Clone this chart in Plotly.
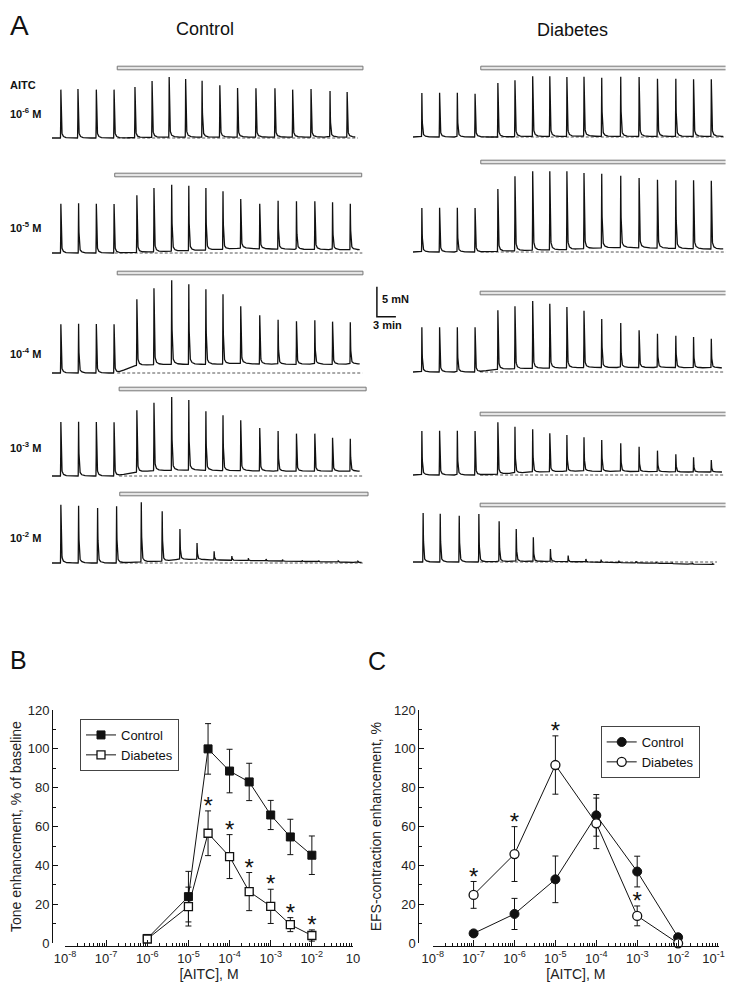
import numpy as np
import plotly.graph_objects as go

# The page body keeps the browser's default 8 px margin, so the figure is made
# 16 px smaller than the window and every pixel position is shifted by that margin.
WIN_W, WIN_H = 734, 998
OFF = 8
PW, PH = WIN_W - 2 * OFF, WIN_H - 2 * OFF
FONT = "Arial, 'Liberation Sans', Helvetica, sans-serif"


def fx(p):
    return (p - OFF) / PW


def fy(p):
    return 1 - (p - OFF) / PH


# ---------------- Panel A data: EFS-evoked contractions (mN) vs time (min) ----------------
CONC_LABELS = ["10<sup>-6</sup> M", "10<sup>-5</sup> M", "10<sup>-4</sup> M",
               "10<sup>-3</sup> M", "10<sup>-2</sup> M"]

SPIKE_T = [1.4, 4.2, 7.0, 9.8, 13.4, 16.1, 18.9, 21.6, 24.3, 27.0, 29.8, 32.8, 35.7, 38.6, 41.5, 44.3, 47.1]
SPIKE_T_C6 = [1.4, 4.1, 7.0, 9.8, 13.1, 15.8, 18.5, 21.1, 23.7, 26.5, 29.3, 32.2, 35.2, 38.0, 40.9, 43.9, 46.6]
SPIKE_T_C2 = [1.4, 4.2, 7.2, 10.2, 14.1, 17.4, 20.2, 22.9, 25.6, 28.4, 31.0, 33.8, 36.4, 39.5, 42.1, 45.2, 48.3]
SPIKE_T_D2 = [1.6, 4.3, 7.3, 10.4, 13.6, 16.3, 19.0, 21.7, 24.5, 27.3, 29.7, 32.5, 35.2, 38.4, 40.9, 44.1, 47.3]

CTRL_E6_PEAK = [8.06, 8.17, 8.06, 8.06, 8.5, 9.5, 10.17, 9.83, 9.56, 8.78, 8.33, 8.28, 8.28, 8.06, 8.17, 7.83, 7.67]
CTRL_E6_TONE = [0, 0, 0, 0, 0.05, 0.1, 0.15, 0.15, 0.15, 0.15, 0.15, 0.15, 0.15, 0.15, 0.15, 0.15, 0.15]
CTRL_E5_PEAK = [8.22, 8.28, 8.22, 8.17, 9.61, 10.83, 11.39, 11.22, 10.83, 10.28, 9.0, 8.22, 8.72, 8.61, 8.61, 8.44, 8.22]
CTRL_E5_TONE = [0, 0, 0, 0, 0.1, 0.2, 0.3, 0.4, 0.5, 0.6, 0.8, 0.7, 0.65, 0.6, 0.6, 0.55, 0.55]
CTRL_E4_PEAK = [8.11, 8.22, 8.17, 8.11, 12.28, 14.11, 15.44, 14.78, 13.94, 13.11, 11.11, 9.61, 8.89, 8.61, 8.78, 8.56, 8.44]
CTRL_E4_TONE = [0, 0, 0, 0, 1.25, 1.4, 1.45, 1.45, 1.45, 1.5, 1.6, 1.5, 1.45, 1.45, 1.5, 1.45, 1.5]
CTRL_E3_PEAK = [9.0, 9.06, 9.0, 8.94, 10.94, 12.22, 13.17, 12.67, 10.78, 10.11, 9.28, 8.0, 7.5, 7.06, 7.06, 6.39, 6.22]
CTRL_E3_TONE = [0, 0, 0, 0, 0.65, 0.9, 0.95, 1.0, 0.95, 0.9, 0.9, 0.85, 0.8, 0.8, 0.8, 0.8, 0.8]
CTRL_E2_PEAK = [9.72, 9.56, 9.17, 9.44, 10.11, 8.61, 5.67, 3.33, 1.94, 1.17, 0.78, 0.67, 0.56, 0.44, 0.39, 0.33, 0.28]
CTRL_E2_TONE = [0, 0, 0, 0, 0.2, 0.3, 0.6, 0.6, 0.5, 0.45, 0.4, 0.35, 0.3, 0.25, 0.2, 0.15, 0.1]

DIAB_E6_PEAK = [7.33, 7.39, 7.39, 7.22, 9.0, 9.44, 10.11, 10.11, 10.0, 10.06, 9.89, 10.06, 10.0, 9.72, 9.72, 9.61, 9.61]
DIAB_E6_TONE = [0, 0, 0, 0, 0, 0.05, 0.1, 0.1, 0.1, 0.15, 0.1, 0.1, 0.1, 0.1, 0.1, 0.1, 0.1]
DIAB_E5_PEAK = [7.33, 7.39, 7.39, 7.33, 10.5, 12.61, 13.44, 13.44, 13.44, 13.17, 13.06, 12.72, 12.33, 12.06, 11.94, 11.94, 11.89]
DIAB_E5_TONE = [0, 0, 0, 0, 0.1, 0.2, 0.3, 0.35, 0.4, 0.55, 0.7, 0.75, 0.7, 0.65, 0.6, 0.55, 0.5]
DIAB_E4_PEAK = [7.44, 7.44, 7.44, 7.44, 10.28, 10.94, 11.83, 11.39, 10.83, 10.22, 8.83, 8.17, 6.94, 6.39, 6.06, 5.83, 5.56]
DIAB_E4_TONE = [0, 0, 0, 0, 0.45, 0.55, 0.6, 0.65, 0.7, 0.75, 0.75, 0.75, 0.75, 0.75, 0.75, 0.7, 0.7]
DIAB_E3_PEAK = [7.33, 7.39, 7.39, 7.33, 8.78, 8.06, 7.61, 6.94, 6.67, 6.28, 5.83, 5.28, 4.72, 4.06, 3.44, 2.94, 2.5]
DIAB_E3_TONE = [0, 0, 0, 0, 0.15, 0.3, 0.45, 0.55, 0.6, 0.65, 0.6, 0.6, 0.55, 0.55, 0.5, 0.5, 0.5]
DIAB_E2_PEAK = [8.17, 8.06, 7.72, 8.0, 6.78, 5.5, 4.11, 2.17, 1.06, 0.5, 0.39, 0.22, 0.11, 0.0, -0.1, -0.2, -0.25]
DIAB_E2_TONE = [0, 0, 0, 0, 0.05, 0.1, 0.1, 0.1, 0.05, 0, -0.05, -0.1, -0.15, -0.2, -0.3, -0.35, -0.4]

CTRL_AITC_ON = [10.3, 9.9, 10.3, 10.6, 10.7]
CTRL_AITC_OFF = [49.1, 48.9, 49.1, 49.6, 49.9]
DIAB_AITC_ON = [10.7, 10.7, 10.6, 10.6, 10.6]
DIAB_AITC_OFF = [49.8, 49.8, 49.6, 49.6, 49.6]
CTRL_T_END = [47.9, 48.6, 48.6, 48.6, 48.9]
DIAB_T_END = [49.0, 49.0, 48.8, 48.8, 47.6]

SCALE_MN = 5
SCALE_MIN = 3

# ---------------- Panel B data: tone enhancement (%) ----------------
B_CONC = [1e-6, 1e-5, 3e-5, 1e-4, 3e-4, 1e-3, 3e-3, 1e-2]
B_CTRL = [2.5, 24, 100, 88.6, 83, 66, 54.7, 45.3]
B_CTRL_SEM = [1, 13, 13, 11.2, 9.6, 7.5, 9.1, 9.9]
B_DIAB = [2.2, 18.9, 56.6, 44.6, 26.6, 19, 9.6, 4]
B_DIAB_SEM = [1, 10, 11.5, 11.3, 9.8, 8.8, 3.6, 2.9]
B_SIG = [0, 0, 1, 1, 1, 1, 1, 1]

# ---------------- Panel C data: EFS-contraction enhancement (%) ----------------
C_CONC = [1e-7, 1e-6, 1e-5, 1e-4, 1e-3, 1e-2]
C_CTRL = [5.1, 15.1, 32.9, 65.8, 36.9, 3.1]
C_CTRL_SEM = [0.8, 8, 12, 10.7, 7.9, 1]
C_DIAB = [24.9, 45.9, 91.7, 61.7, 14.1, 0]
C_DIAB_SEM = [6.9, 14.1, 15, 13, 5.1, 0.8]
C_SIG = [1, 1, 1, 0, 1, 0]

X_DECADES = [-8, -7, -6, -5, -4, -3, -2, -1]
Y_TICKS = [0, 20, 40, 60, 80, 100, 120]

# ---------------- layout positions (window pixels) ----------------
PX_PER_MIN = 19 / 3
PX_PER_MN = 6
CTRL_X0_PX, DIAB_X0_PX = 52, 413
CTRL_BASE_PX = [138, 253, 373, 476, 563]
DIAB_BASE_PX = [137, 252, 372, 475, 562]
CTRL_BAR_PX = [68, 175, 273, 389, 494]
DIAB_BAR_PX = [68, 162, 293, 414, 505]
LABEL_Y_PX = [113, 227, 353, 447, 537]


def ef_trace(times, peaks, tone, t_end):
    times = np.asarray(times, float)
    peaks = np.asarray(peaks, float)
    tone = np.asarray(tone, float)
    t = np.union1d(np.arange(0.0, t_end, 0.02), times)
    t = t[t <= t_end]
    base = np.full_like(t, tone[0])
    for i in range(len(times) - 1):
        m = (t >= times[i]) & (t < times[i + 1])
        s = (t[m] - times[i]) / (times[i + 1] - times[i])
        s = s * s * (3 - 2 * s)
        base[m] = tone[i] + (tone[i + 1] - tone[i]) * s
    base[t >= times[-1]] = tone[-1]
    y = base.copy()
    for ts, pk, tn in zip(times, peaks, tone):
        amp = pk - tn
        dt = t - ts
        k = np.zeros_like(t)
        r = (dt > -0.08) & (dt < 0)
        k[r] = ((dt[r] + 0.08) / 0.08) ** 3
        d = dt >= 0
        k[d] = 0.9 * np.exp(-dt[d] / 0.06) + 0.1 * np.exp(-dt[d] / 0.35)
        y += amp * k
    return t, y


fig = go.Figure()
axes = {}
shapes = []
annotations = []


def ax_names(n):
    return ("x" if n == 1 else f"x{n}", "y" if n == 1 else f"y{n}",
            "xaxis" if n == 1 else f"xaxis{n}", "yaxis" if n == 1 else f"yaxis{n}")


ctrl_sets = [(SPIKE_T_C6, CTRL_E6_PEAK, CTRL_E6_TONE), (SPIKE_T, CTRL_E5_PEAK, CTRL_E5_TONE),
             (SPIKE_T, CTRL_E4_PEAK, CTRL_E4_TONE), (SPIKE_T, CTRL_E3_PEAK, CTRL_E3_TONE),
             (SPIKE_T_C2, CTRL_E2_PEAK, CTRL_E2_TONE)]
diab_sets = [(SPIKE_T, DIAB_E6_PEAK, DIAB_E6_TONE), (SPIKE_T, DIAB_E5_PEAK, DIAB_E5_TONE),
             (SPIKE_T, DIAB_E4_PEAK, DIAB_E4_TONE), (SPIKE_T, DIAB_E3_PEAK, DIAB_E3_TONE),
             (SPIKE_T_D2, DIAB_E2_PEAK, DIAB_E2_TONE)]

YR = [-1.5, 16.5]
for c in range(2):
    for r in range(5):
        n = c * 5 + r + 1
        xr_, yr_, xa, ya = ax_names(n)
        if c == 0:
            x0px, xrange_, base_px, bar_px = CTRL_X0_PX, [-0.5, 50.5], CTRL_BASE_PX[r], CTRL_BAR_PX[r]
            times, peaks, tone = ctrl_sets[r]
            t_end, on, off = CTRL_T_END[r], CTRL_AITC_ON[r], CTRL_AITC_OFF[r]
        else:
            x0px, xrange_, base_px, bar_px = DIAB_X0_PX, [-7.0, 49.35], DIAB_BASE_PX[r], DIAB_BAR_PX[r]
            times, peaks, tone = diab_sets[r]
            t_end, on, off = DIAB_T_END[r], DIAB_AITC_ON[r], DIAB_AITC_OFF[r]
        axes[xa] = dict(domain=[fx(x0px + xrange_[0] * PX_PER_MIN), min(1, fx(x0px + xrange_[1] * PX_PER_MIN))],
                        range=xrange_, visible=False, anchor=yr_, fixedrange=True)
        axes[ya] = dict(domain=[fy(base_px - YR[0] * PX_PER_MN), fy(base_px - YR[1] * PX_PER_MN)],
                        range=YR, visible=False, anchor=xr_, fixedrange=True)
        fig.add_trace(go.Scatter(x=[on, t_end + 0.4], y=[0, 0], mode="lines", xaxis=xr_, yaxis=yr_,
                                 line=dict(color="#555", width=1, dash="3px,2px"),
                                 showlegend=False, hoverinfo="skip"))
        t, y = ef_trace(times, peaks, tone, t_end)
        fig.add_trace(go.Scatter(x=t, y=y, mode="lines", xaxis=xr_, yaxis=yr_,
                                 line=dict(color="#111", width=1.3), showlegend=False, hoverinfo="skip"))
        shapes.append(dict(type="rect", xref=xr_, yref="paper", x0=on, x1=off,
                           y0=fy(bar_px + 1.8), y1=fy(bar_px - 1.8),
                           line=dict(color="#777", width=1), fillcolor="#e4e4e4"))
        if c == 1 and r == 2:
            sx0, sy0 = -5.7, 9.2
            fig.add_trace(go.Scatter(x=[sx0, sx0, sx0 + SCALE_MIN], y=[sy0 + SCALE_MN, sy0, sy0],
                                     mode="lines", xaxis=xr_, yaxis=yr_,
                                     line=dict(color="#111", width=1.5), showlegend=False, hoverinfo="skip"))
            annotations.append(dict(x=sx0 + 0.55, y=sy0 + 3.0, xref=xr_, yref=yr_, text="<b>5 mN</b>",
                                    showarrow=False, xanchor="left", yanchor="middle",
                                    font=dict(size=11, color="#111")))
            annotations.append(dict(x=sx0 + 1.6, y=sy0 - 1.4, xref=xr_, yref=yr_, text="<b>3 min</b>",
                                    showarrow=False, xanchor="center", yanchor="middle",
                                    font=dict(size=11, color="#111")))

# ---------------- Panels B and C ----------------
tickvals = [10.0 ** e for e in X_DECADES]
minor_vals = [k * 10.0 ** e for e in X_DECADES[:-1] for k in range(2, 10)]
B_TICKTEXT = [f"10<sup>{e}</sup>" for e in X_DECADES[:-1]] + ["10"]
C_TICKTEXT = [f"10<sup>{e}</sup>" for e in X_DECADES[:-1]] + [f"10<sup>{X_DECADES[-1]}</sup>&nbsp;&nbsp;&nbsp;"]


def xaxis_cfg(dom_px, ticktext):
    return dict(type="log", range=[X_DECADES[0], X_DECADES[-1]], domain=[fx(dom_px[0]), fx(dom_px[1])],
                anchor="free", position=fy(946), tickmode="array", tickvals=tickvals, ticktext=ticktext,
                ticks="inside", ticklen=6, tickwidth=1, tickcolor="#111",
                minor=dict(tickmode="array", tickvals=minor_vals, ticks="inside", ticklen=3,
                           tickwidth=1, tickcolor="#111", showgrid=False),
                showline=True, linecolor="#111", linewidth=1, showgrid=False, zeroline=False,
                tickfont=dict(size=13, color="#222"), automargin=False, ticklabeloverflow="allow",
                title=dict(text="[AITC], M", font=dict(size=14, color="#222"), standoff=2),
                fixedrange=True)


def yaxis_cfg(pos_px, title):
    return dict(range=[0, 120], domain=[fy(943.3), fy(710)], anchor="free", position=fx(pos_px),
                tickmode="array", tickvals=Y_TICKS, ticks="inside", ticklen=5, tickwidth=1, tickcolor="#111",
                minor=dict(dtick=10, ticks="inside", ticklen=3, tickwidth=1, tickcolor="#111", showgrid=False),
                showline=True, linecolor="#111", linewidth=1, showgrid=False, zeroline=False,
                tickfont=dict(size=13, color="#222"), automargin=False,
                title=dict(text=title, font=dict(size=14, color="#222"), standoff=8),
                fixedrange=True)


axes["xaxis11"] = xaxis_cfg([65, 353], B_TICKTEXT)
axes["yaxis11"] = yaxis_cfg(52, "Tone enhancement, % of baseline")
axes["xaxis12"] = xaxis_cfg([432.7, 719], C_TICKTEXT)
axes["yaxis12"] = yaxis_cfg(418.3, "EFS-contraction enhancement, %")


def err(arr):
    return dict(type="data", array=arr, color="#111", thickness=1, width=3)


fig.add_trace(go.Scatter(x=B_CONC, y=B_CTRL, error_y=err(B_CTRL_SEM), mode="lines+markers", name="Control",
                         xaxis="x11", yaxis="y11", legend="legend", cliponaxis=False,
                         line=dict(color="#111", width=1),
                         marker=dict(symbol="square", size=8, color="#111", line=dict(color="#111", width=1))))
fig.add_trace(go.Scatter(x=B_CONC, y=B_DIAB, error_y=err(B_DIAB_SEM), mode="lines+markers", name="Diabetes",
                         xaxis="x11", yaxis="y11", legend="legend", cliponaxis=False,
                         line=dict(color="#111", width=1),
                         marker=dict(symbol="square", size=8, color="white", line=dict(color="#111", width=1.3))))
fig.add_trace(go.Scatter(x=[x for x, s in zip(B_CONC, B_SIG) if s],
                         y=[m + e + 1.5 for m, e, s in zip(B_DIAB, B_DIAB_SEM, B_SIG) if s],
                         mode="text", text=["*"] * sum(B_SIG), textposition="middle center",
                         textfont=dict(size=24, color="#111"), xaxis="x11", yaxis="y11",
                         showlegend=False, cliponaxis=False, hoverinfo="skip"))

fig.add_trace(go.Scatter(x=C_CONC, y=C_CTRL, error_y=err(C_CTRL_SEM), mode="lines+markers", name="Control",
                         xaxis="x12", yaxis="y12", legend="legend2", cliponaxis=False,
                         line=dict(color="#111", width=1),
                         marker=dict(symbol="circle", size=9, color="#111", line=dict(color="#111", width=1))))
fig.add_trace(go.Scatter(x=C_CONC, y=C_DIAB, error_y=err(C_DIAB_SEM), mode="lines+markers", name="Diabetes",
                         xaxis="x12", yaxis="y12", legend="legend2", cliponaxis=False,
                         line=dict(color="#111", width=1),
                         marker=dict(symbol="circle", size=9, color="white", line=dict(color="#111", width=1.3))))
fig.add_trace(go.Scatter(x=[x for x, s in zip(C_CONC, C_SIG) if s],
                         y=[m + e + 1.5 for m, e, s in zip(C_DIAB, C_DIAB_SEM, C_SIG) if s],
                         mode="text", text=["*"] * sum(C_SIG), textposition="middle center",
                         textfont=dict(size=24, color="#111"), xaxis="x12", yaxis="y12",
                         showlegend=False, cliponaxis=False, hoverinfo="skip"))


def label(xp, yp, text, size, xanchor="center", bold=False, yanchor="middle"):
    annotations.append(dict(x=fx(xp), y=fy(yp), xref="paper", yref="paper",
                            text=f"<b>{text}</b>" if bold else text, showarrow=False,
                            xanchor=xanchor, yanchor=yanchor, font=dict(size=size, color="#111")))


label(8, OFF, "A", 28, "left", yanchor="top")
label(205, 29, "Control", 18)
label(572.5, 30, "Diabetes", 18)
label(8, 85, "AITC", 11, "left", True)
for lab, yp in zip(CONC_LABELS, LABEL_Y_PX):
    label(8, yp, lab, 11, "left", True)
label(8, 660, "B", 25, "left")
label(366, 661, "C", 25, "left")

leg_common = dict(xanchor="left", yanchor="top", bordercolor="#444", borderwidth=1, bgcolor="white",
                  font=dict(size=13, color="#111"), itemwidth=30, tracegroupgap=0)

fig.update_layout(
    width=PW, height=PH, margin=dict(l=0, r=0, t=0, b=0), autosize=False,
    paper_bgcolor="white", plot_bgcolor="rgba(0,0,0,0)",
    font=dict(family=FONT, color="#111"),
    shapes=shapes, annotations=annotations,
    legend=dict(x=fx(80), y=fy(719), **leg_common),
    legend2=dict(x=fx(600.7), y=fy(726), **leg_common),
    **axes,
)

fig.write_html("out.html", config={"displayModeBar": False})
